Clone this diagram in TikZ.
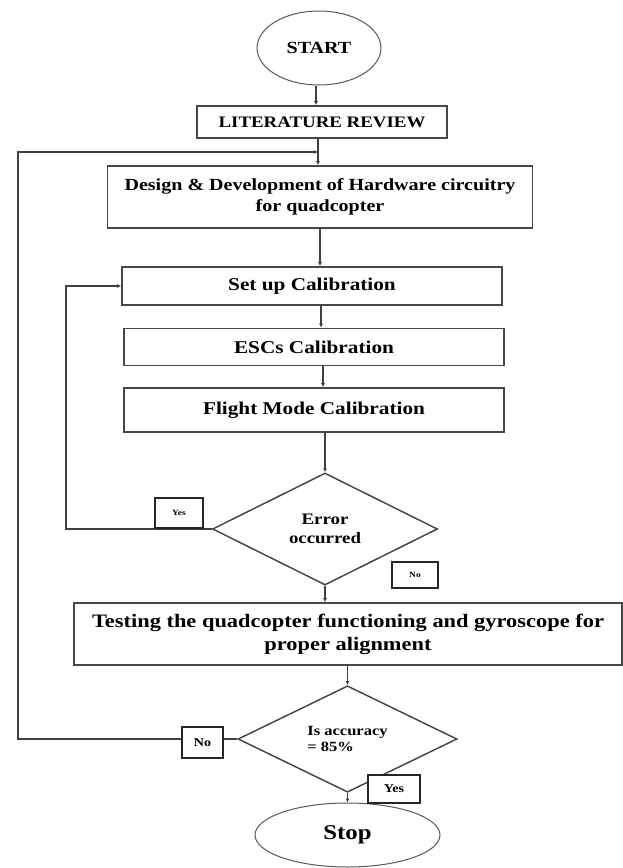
\documentclass[tikz,border=0pt]{standalone}
\usepackage{fontspec}
\setmainfont[FakeStretch=1.18]{Liberation Serif}
\usetikzlibrary{shapes.geometric,arrows.meta}
\begin{document}
\begin{tikzpicture}[x=1pt,y=-1pt,
  box/.style={draw=black!72,line width=1.6pt,rectangle,inner sep=0pt,align=center},
  term/.style={draw=black!65,line width=1pt,ellipse,inner sep=0pt},
  dec/.style={draw=black!75,line width=1.4pt,diamond,inner sep=0pt,align=center},
  tag/.style={draw=black!85,line width=2pt,fill=white,rectangle,inner sep=0pt},
  conn/.style={draw=black!75,line width=1.1pt,-{Latex[length=4pt,width=4pt]}},
  fs/.style={font=\bfseries\fontsize{#1pt}{1.2\dimexpr#1pt\relax}\selectfont}]
\useasboundingbox (0,0) rectangle (622,868);
\fill[white] (0,0) rectangle (622,868);
% nodes
\node[term,minimum width=124pt,minimum height=74pt,fs=17] (start) at (319,48) {START};
\node[box,minimum width=250pt,minimum height=32pt,fs=16] (lit) at (322,122) {LITERATURE REVIEW};
\node[box,minimum width=425pt,minimum height=62pt,fs=17] (design) at (320,197) {Design \& Development of Hardware circuitry\\for quadcopter};
\node[box,minimum width=380pt,minimum height=38pt,fs=18] (setup) at (312,286) {Set up Calibration};
\node[box,minimum width=380pt,minimum height=37pt,fs=18] (escs) at (314,347) {ESCs Calibration};
\node[box,minimum width=380pt,minimum height=44pt,fs=18] (flight) at (314,410) {Flight Mode Calibration};
\node[dec,minimum width=225pt,minimum height=112pt,fs=16] (err) at (325,529) {Error\\occurred};
\node[box,minimum width=548pt,minimum height=62pt,fs=19] (testing) at (348,634) {Testing the quadcopter functioning and gyroscope for\\proper alignment};
\node[dec,minimum width=219pt,minimum height=98pt,fs=14,align=left] (acc) at (347.5,739) {Is accuracy\\= 85\%};
\node[term,minimum width=185pt,minimum height=64pt,fs=21] (stop) at (347.5,835) {Stop};
% helper coordinates
\coordinate (j1) at (318,152);
\coordinate (L) at (18,0);
\coordinate (L2) at (66,0);
\coordinate (c1) at (316,0);
\coordinate (c3) at (320,0);
\coordinate (c4) at (321,0);
\coordinate (c5) at (323,0);
% connectors
\draw[conn] (start.south -| c1) -- (lit.north -| c1);
\draw[conn] (lit.south -| j1) -- (j1 |- design.north);
\draw[conn] (design.south -| c3) -- (setup.north -| c3);
\draw[conn] (setup.south -| c4) -- (escs.north -| c4);
\draw[conn] (escs.south -| c5) -- (flight.north -| c5);
\draw[conn] (flight.south -| err.north) -- (err.north);
\draw[conn] (err.south) -- (err.south |- testing.north);
\draw[conn] (acc.north |- testing.south) -- (acc.north);
\draw[conn] (acc.south) -- (stop.north);
\draw[conn] (err.west) -- (err.west -| L2) -- (L2 |- setup.west) -- (setup.west);
\draw[conn] (acc.west) -- (acc.west -| L) -- (L |- j1) -- (j1);
% tags
\node[tag,minimum width=48pt,minimum height=30pt,fs=8] (yes1) at (179,513) {Yes};
\node[tag,minimum width=46pt,minimum height=26pt,fs=8] (no1) at (415,575) {No};
\node[tag,minimum width=41pt,minimum height=31pt,fs=12] (no2) at (202.5,742.5) {No};
\node[tag,minimum width=52pt,minimum height=28pt,fs=12] (yes2) at (394,789) {Yes};
\end{tikzpicture}
\end{document}
